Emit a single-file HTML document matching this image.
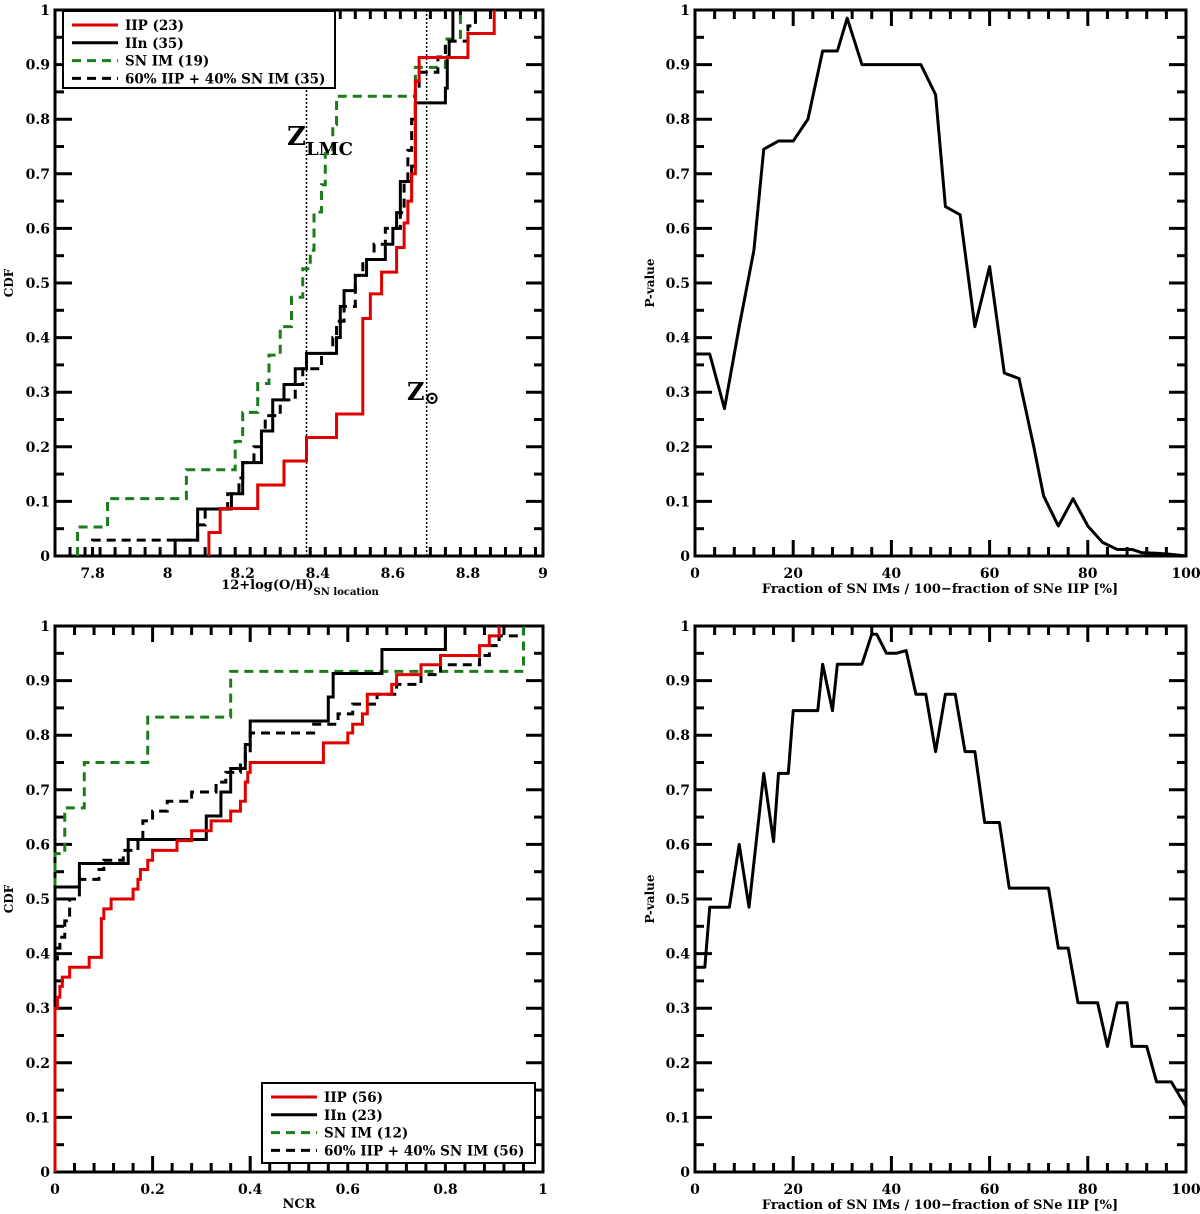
<!DOCTYPE html>
<html><head><meta charset="utf-8"><style>
body{margin:0;background:#fff}
svg{display:block}
text{font-family:"DejaVu Serif","Liberation Serif",serif;font-weight:bold;fill:#000}
</style></head><body>
<svg id="fig" width="1200" height="1214" viewBox="0 0 1200 1214"></svg>
<script>
// ---- Panel A: metallicity CDFs ----
const aIIPx=[8.11,8.14,8.24,8.31,8.37,8.45,8.52,8.54,8.57,8.61,8.63,8.64,8.65,8.66,8.67,8.80,8.87];
const aIIPy=[0.043,0.087,0.13,0.174,0.217,0.26,0.435,0.48,0.52,0.565,0.61,0.65,0.70,0.87,0.913,0.957,1.0];
const aIInx=[8.02,8.08,8.17,8.20,8.25,8.28,8.31,8.34,8.37,8.45,8.46,8.47,8.50,8.53,8.58,8.60,8.61,8.62,8.65,8.66,8.74,8.745,8.75,8.76];
const aIIny=[0.029,0.086,0.114,0.171,0.229,0.286,0.314,0.343,0.371,0.40,0.457,0.486,0.514,0.543,0.571,0.60,0.629,0.686,0.714,0.83,0.857,0.914,0.943,1.0];
const aIMx=[7.76,7.84,8.05,8.18,8.20,8.24,8.27,8.30,8.33,8.36,8.38,8.39,8.41,8.42,8.44,8.45,8.66,8.74,8.78];
const aIMy=[0.053,0.105,0.158,0.21,0.263,0.316,0.368,0.42,0.474,0.526,0.56,0.63,0.68,0.737,0.79,0.842,0.895,0.947,1.0];
const aMixx=[7.80,8.08,8.10,8.16,8.19,8.20,8.23,8.25,8.26,8.30,8.34,8.36,8.41,8.44,8.45,8.47,8.50,8.52,8.55,8.58,8.62,8.63,8.64,8.65,8.66,8.67,8.72,8.74,8.80,8.82];
const aMixy=[0.029,0.057,0.086,0.114,0.143,0.171,0.2,0.229,0.257,0.286,0.314,0.343,0.371,0.40,0.43,0.457,0.514,0.543,0.571,0.60,0.629,0.686,0.743,0.80,0.857,0.886,0.914,0.943,0.971,1.0];
// ---- Panel C: NCR CDFs ----
const cIIPx=[0,0.005,0.01,0.015,0.03,0.07,0.095,0.10,0.115,0.16,0.17,0.175,0.19,0.20,0.25,0.28,0.32,0.36,0.38,0.39,0.395,0.40,0.55,0.60,0.61,0.63,0.64,0.69,0.70,0.75,0.79,0.87,0.89,0.91];
const cIIPy=[0.30,0.32,0.34,0.357,0.375,0.393,0.464,0.482,0.50,0.518,0.536,0.554,0.571,0.589,0.607,0.625,0.643,0.661,0.679,0.714,0.732,0.75,0.786,0.804,0.82,0.839,0.875,0.893,0.911,0.929,0.946,0.964,0.982,1.0];
const cIInx=[0,0.05,0.15,0.31,0.34,0.36,0.39,0.40,0.56,0.57,0.67,0.80];
const cIIny=[0.522,0.565,0.609,0.652,0.696,0.739,0.783,0.826,0.87,0.913,0.957,1.0];
const cIMx=[0,0.02,0.06,0.19,0.36,0.96];
const cIMy=[0.583,0.667,0.75,0.833,0.917,1.0];
const cMixx=[0,0.005,0.01,0.02,0.03,0.05,0.09,0.10,0.14,0.17,0.18,0.20,0.23,0.28,0.33,0.35,0.38,0.39,0.40,0.53,0.58,0.61,0.66,0.70,0.75,0.79,0.87,0.89,0.91];
const cMixy=[0.39,0.41,0.43,0.46,0.50,0.536,0.554,0.571,0.589,0.607,0.643,0.661,0.679,0.696,0.714,0.732,0.75,0.768,0.804,0.82,0.839,0.857,0.875,0.893,0.911,0.929,0.946,0.964,0.982];
const cMixEnd=0.96;
// ---- Panel B/D: P-values ----
const bX=[0,3,6,9,12,14,17,20,23,26,29,31,34,37,40,43,46,49,51,54,57,60,63,66,69,71,74,77,80,83,86,89,91,94,97,100];
const bY=[0.37,0.37,0.27,0.42,0.56,0.745,0.76,0.76,0.80,0.925,0.925,0.985,0.90,0.90,0.90,0.90,0.90,0.845,0.64,0.625,0.42,0.53,0.335,0.325,0.20,0.11,0.055,0.105,0.055,0.025,0.012,0.012,0.006,0.005,0.003,0.0];
const dX=[0,2,3,5,7,9,11,14,16,17,19,20,23,25,26,28,29,32,34,36,37,39,41,43,45,47,49,51,53,55,57,59,62,64,66,68,70,72,74,76,78,80,82,84,86,88,89,92,94,97,100];
const dY=[0.375,0.375,0.485,0.485,0.485,0.60,0.485,0.73,0.605,0.73,0.73,0.845,0.845,0.845,0.93,0.845,0.93,0.93,0.93,0.985,0.985,0.95,0.95,0.955,0.875,0.875,0.77,0.875,0.875,0.77,0.77,0.64,0.64,0.52,0.52,0.52,0.52,0.52,0.41,0.41,0.31,0.31,0.31,0.23,0.31,0.31,0.23,0.23,0.165,0.165,0.12];

const NS='http://www.w3.org/2000/svg';
const svg=document.getElementById('fig');
function mk(tag,attrs,parent){const e=document.createElementNS(NS,tag);for(const k in attrs)e.setAttribute(k,attrs[k]);(parent||svg).appendChild(e);return e;}

function panel(name,L,T,R,B,x0,x1,xmaj,xmin,xfmt){
  const g=mk('g',{});
  
  
  const sx=v=>L+(v-x0)/(x1-x0)*(R-L);
  const sy=v=>B-v*(B-T);
  const nMin=Math.round((x1-x0)/xmin);
  for(let i=0;i<=nMin;i++){
    const v=x0+i*xmin; const x=sx(v);
    const isMaj=Math.abs(v/xmaj-Math.round(v/xmaj))<1e-6;
    const len=isMaj?16:9;
    mk('line',{x1:x,y1:B,x2:x,y2:B-len,stroke:'#000','stroke-width':3},g);
    mk('line',{x1:x,y1:T,x2:x,y2:T+len,stroke:'#000','stroke-width':3},g);
  }
  for(let i=0;i<=20;i++){
    const v=i*0.05,y=sy(v),len=(i%2==0)?17:9;
    mk('line',{x1:L,y1:y,x2:L+len,y2:y,stroke:'#000','stroke-width':3},g);
    mk('line',{x1:R,y1:y,x2:R-len,y2:y,stroke:'#000','stroke-width':3},g);
    if(i%2==0){const t=mk('text',{x:L-5,y:y+5,'text-anchor':'end','font-size':14},g);t.textContent=(i==0?'0':i==20?'1':(i/20).toFixed(1));
      }
  }
  const first=Math.ceil(x0/xmaj-1e-9)*xmaj;
  for(let v=first;v<=x1+1e-9;v+=xmaj){
    const t=mk('text',{x:sx(v),y:B+22,'text-anchor':'middle','font-size':14},g);t.textContent=xfmt(v);
    
  }
  mk('rect',{x:L,y:T,width:R-L,height:B-T,fill:'none',stroke:'#000','stroke-width':3},g);
  return {g,sx,sy};
}
function step(p,xs,ys,color,dash,name,endX){
  let d='M'+p.sx(xs[0])+','+p.sy(0);
  let py=0;
  for(let i=0;i<xs.length;i++){const x=p.sx(xs[i]);d+=' L'+x+','+p.sy(py)+' L'+x+','+p.sy(ys[i]);py=ys[i];}
  if(endX!==undefined)d+=' L'+p.sx(endX)+','+p.sy(py);
  const e=mk('path',{d,fill:'none',stroke:color,'stroke-width':3,'stroke-dasharray':dash||'none'},p.g);
  
}
function line(p,xs,ys,name){
  const d=xs.map((x,i)=>(i?'L':'M')+p.sx(x)+','+p.sy(ys[i])).join(' ');
  const e=mk('path',{d,fill:'none',stroke:'#000','stroke-width':3,'stroke-linejoin':'round'},p.g);
  
}
function legend(p,x,y,w,h,labels,counts){
  const g=mk('g',{},p.g);
  
  mk('rect',{x,y,width:w,height:h,fill:'#fff',stroke:'#000','stroke-width':2},g);
  const st=[['#e00000','none'],['#000','none'],['#1a7d1a','9,6'],['#000','9,6']];
  labels.forEach((l,i)=>{const yy=y+14+i*17.8;
    mk('line',{x1:x+9,y1:yy,x2:x+55,y2:yy,stroke:st[i][0],'stroke-width':3,'stroke-dasharray':st[i][1]},g);
    const t=mk('text',{x:x+62,y:yy+5,'font-size':13.5},g);t.textContent=l+' ('+counts[i]+')';
    });
}
function txt(x,y,s,size,rot,name){const t=mk('text',{x,y,'font-size':size,'text-anchor':'middle',transform:rot?`rotate(-90 ${x} ${y})`:''});t.textContent=s;return t;}

// Panel A
const A=panel('metallicity-cdf-panel',55,10,543,556,7.7,9.0,0.2,0.04,v=>{const r=Math.round(v*10)/10;return (Math.abs(r-8)<1e-6||Math.abs(r-9)<1e-6)?String(Math.round(r)):r.toFixed(1);});
[[8.37,90],[8.69,10]].forEach(([v,t])=>{const e=mk('line',{x1:A.sx(v),y1:t,x2:A.sx(v),y2:556,stroke:'#000','stroke-width':1.5,'stroke-dasharray':'2,2'},A.g);});
step(A,aIMx,aIMy,'#1a7d1a','9,6','sn-im-cdf');
step(A,aMixx,aMixy,'#000','9,6','mix-cdf');
step(A,aIInx,aIIny,'#000','none','iin-cdf');
step(A,aIIPx,aIIPy,'#e00000','none','iip-cdf');
legend(A,63,11,272,77,['IIP','IIn','SN IM','60% IIP + 40% SN IM'],[23,35,19,35]);
{const t=mk('text',{x:287,y:145,'font-size':26});t.innerHTML='Z<tspan font-size="18" dy="10">LMC</tspan>';}
{const t=mk('text',{x:407,y:400,'font-size':24});t.innerHTML='Z<tspan font-size="18" dy="4">⊙</tspan>';}
txt(13,283,'CDF',12,true,'y-axis-title');
{const t=mk('text',{x:300,y:589,'font-size':13,'text-anchor':'middle'});t.innerHTML='12+log(O/H)<tspan font-size="10" dy="6">SN location</tspan>';}

// Panel B
const Bp=panel('pvalue-metallicity-panel',695,10,1186,556,0,100,20,4,v=>String(Math.round(v)));
line(Bp,bX,bY,'pvalue-line');
txt(654,283,'P-value',12,true,'y-axis-title');
txt(940,593,'Fraction of SN IMs / 100−fraction of SNe IIP [%]',13,false,'x-axis-title');

// Panel C
const C=panel('ncr-cdf-panel',55,626,543,1172,0,1,0.2,0.04,v=>{const r=Math.round(v*10)/10;return (r==0||r==1)?String(r):r.toFixed(1);});
step(C,cIMx,cIMy,'#1a7d1a','9,6','sn-im-cdf');
step(C,cMixx,cMixy,'#000','9,6','mix-cdf',cMixEnd);
step(C,cIInx,cIIny,'#000','none','iin-cdf');
step(C,cIIPx,cIIPy,'#e00000','none','iip-cdf');
legend(C,262,1083,273,80,['IIP','IIn','SN IM','60% IIP + 40% SN IM'],[56,23,12,56]);
txt(13,899,'CDF',12,true,'y-axis-title');
txt(299,1208,'NCR',13,false,'x-axis-title');

// Panel D
const D=panel('pvalue-ncr-panel',695,626,1186,1172,0,100,20,4,v=>String(Math.round(v)));
line(D,dX,dY,'pvalue-line');
txt(654,899,'P-value',12,true,'y-axis-title');
txt(940,1209,'Fraction of SN IMs / 100−fraction of SNe IIP [%]',13,false,'x-axis-title');
</script>
</body></html>
